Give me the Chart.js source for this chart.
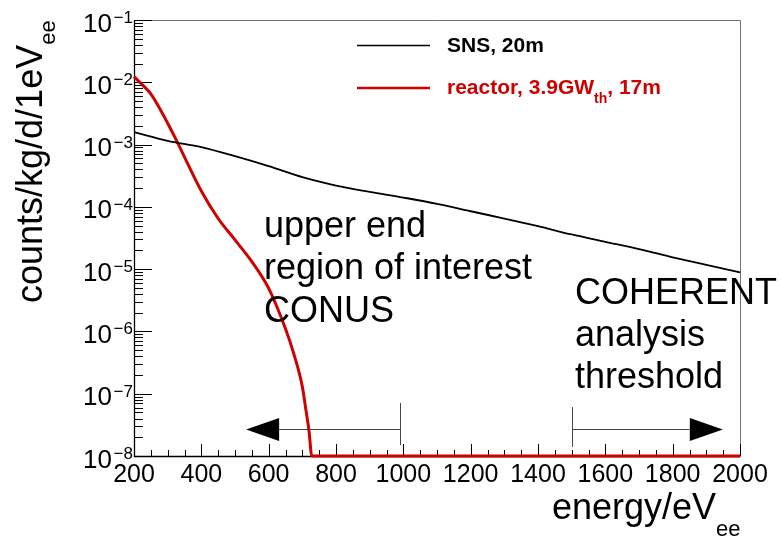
<!DOCTYPE html>
<html>
<head>
<meta charset="utf-8">
<script src="https://cdn.jsdelivr.net/npm/chart.js@4.4.1/dist/chart.umd.min.js"></script>
<style>
  html, body { margin: 0; padding: 0; background: #fff; }
  #wrap { width: 783px; height: 538px; }
</style>
</head>
<body>
<div id="wrap"><canvas id="c" width="783" height="538"></canvas></div>
<script>
// SNS, 20m (counts/kg/d/1eV_ee)
const snsEnergy = [200, 300, 400, 500, 600, 700, 800, 900, 1000, 1100, 1200, 1300, 1400, 1500, 1600, 1700, 1800, 1900, 2000];
const snsRate = [1.58e-3, 1.15e-3, 9.1e-4, 6.5e-4, 4.5e-4, 3.0e-4, 2.2e-4, 1.74e-4, 1.41e-4, 1.12e-4, 8.5e-5, 6.5e-5, 4.9e-5, 3.6e-5, 2.75e-5, 2.1e-5, 1.55e-5, 1.17e-5, 8.9e-6];

// reactor, 3.9GW_th, 17m
const reactorEnergy = [200, 225, 250, 275, 300, 325, 350, 400, 450, 500, 550, 600, 650, 675, 700, 710, 720, 728, 2000];
const reactorRate = [1.23e-2, 9.1e-3, 6.5e-3, 3.9e-3, 2.2e-3, 1.2e-3, 6.3e-4, 1.8e-4, 6.5e-5, 2.95e-5, 1.32e-5, 4.9e-6, 1.1e-6, 4.3e-7, 1.3e-7, 5.8e-8, 2.5e-8, 1e-8, 1e-8];

// axes
const xTickValues = [200, 400, 600, 800, 1000, 1200, 1400, 1600, 1800, 2000];
const yTickExponents = [-1, -2, -3, -4, -5, -6, -7, -8];

const FONT = '"Liberation Sans", Arial, Helvetica, sans-serif';
const RED = '#d00000';

// draws a run of text pieces, each {t, size, dy, bold, color}
function drawRun(ctx, x, y, pieces) {
  pieces.forEach(p => {
    ctx.font = (p.bold ? 'bold ' : '') + p.size + 'px ' + FONT;
    ctx.fillStyle = p.color || '#000';
    ctx.fillText(p.t, x, y + (p.dy || 0));
    x += ctx.measureText(p.t).width;
  });
}

function arrowHead(ctx, xTip, xBase, y, half) {
  ctx.beginPath();
  ctx.moveTo(xTip, y);
  ctx.lineTo(xBase, y - half);
  ctx.lineTo(xBase, y + half);
  ctx.closePath();
  ctx.fill();
}

const rootStyle = {
  id: 'rootStyle',
  beforeDatasetsDraw(chart) {
    const { ctx, chartArea: a, scales: { x, y } } = chart;
    ctx.save();
    // frame
    ctx.lineWidth = 1;
    ctx.strokeStyle = '#707070';
    ctx.beginPath();
    ctx.moveTo(a.left, a.top + 0.5);
    ctx.lineTo(a.right + 0.5, a.top + 0.5);
    ctx.lineTo(a.right + 0.5, a.bottom);
    ctx.stroke();
    ctx.strokeStyle = '#000';
    ctx.lineWidth = 1.3;
    ctx.beginPath();
    ctx.moveTo(a.left + 0.5, a.top);
    ctx.lineTo(a.left + 0.5, a.bottom + 0.5);
    ctx.lineTo(a.right + 0.5, a.bottom + 0.5);
    ctx.stroke();

    // ticks inside the frame
    ctx.lineWidth = 1;
    ctx.beginPath();
    for (let v = 200; v <= 2000; v += 50) {
      const px = Math.round(x.getPixelForValue(v)) + 0.5;
      const len = (v % 200 === 0) ? 12 : 6;
      ctx.moveTo(px, a.bottom);
      ctx.lineTo(px, a.bottom - len);
    }
    yTickExponents.forEach(e => {
      const py = Math.round(y.getPixelForValue(Math.pow(10, e))) + 0.5;
      ctx.moveTo(a.left, py);
      ctx.lineTo(a.left + 18, py);
      if (e > -8) {
        for (let m = 2; m <= 9; m++) {
          const pm = Math.round(y.getPixelForValue(m * Math.pow(10, e - 1))) + 0.5;
          ctx.moveTo(a.left, pm);
          ctx.lineTo(a.left + 9, pm);
        }
      }
    });
    ctx.stroke();
    ctx.restore();
  },
  afterDatasetsDraw(chart) {
    const { ctx, chartArea: a, scales: { x, y } } = chart;
    ctx.save();
    ctx.textBaseline = 'alphabetic';

    // y tick labels 10^n
    yTickExponents.forEach(e => {
      const py = y.getPixelForValue(Math.pow(10, e));
      ctx.textAlign = 'right';
      ctx.font = '26px ' + FONT;
      ctx.fillStyle = '#000';
      ctx.fillText('10', 112, py + 11.5);
      ctx.textAlign = 'left';
      ctx.font = '17px ' + FONT;
      ctx.fillText('\u2212' + (-e), 113.5, py + 3);
    });
    ctx.textAlign = 'left';

    // axis titles
    drawRun(ctx, 552, 519, [{ t: 'energy/eV', size: 36 }, { t: 'ee', size: 22, dy: 17 }]);
    ctx.save();
    ctx.translate(42, 303);
    ctx.rotate(-Math.PI / 2);
    drawRun(ctx, 0, 0, [{ t: 'counts/kg/d/1eV', size: 36 }, { t: 'ee', size: 22, dy: 13 }]);
    ctx.restore();

    // arrows
    const ay = Math.round(y.getPixelForValue(2.7e-8)) + 0.5;
    ctx.strokeStyle = '#444';
    ctx.lineWidth = 1;
    ctx.beginPath();
    let tx = Math.round(x.getPixelForValue(990)) + 0.5;
    ctx.moveTo(tx, y.getPixelForValue(7.1e-8));
    ctx.lineTo(tx, y.getPixelForValue(1.5e-8));
    ctx.moveTo(tx, ay);
    ctx.lineTo(x.getPixelForValue(631), ay);
    tx = Math.round(x.getPixelForValue(1500)) + 0.5;
    ctx.moveTo(tx, y.getPixelForValue(6.1e-8));
    ctx.lineTo(tx, y.getPixelForValue(1.4e-8));
    ctx.moveTo(tx, ay);
    ctx.lineTo(x.getPixelForValue(1851), ay);
    ctx.stroke();
    ctx.fillStyle = '#000';
    arrowHead(ctx, x.getPixelForValue(533), x.getPixelForValue(631), ay, 11.5);
    arrowHead(ctx, x.getPixelForValue(1949), x.getPixelForValue(1851), ay, 11.5);

    // annotation text
    ctx.font = '36px ' + FONT;
    ctx.fillStyle = '#000';
    const lx = x.getPixelForValue(586);
    ['upper end', 'region of interest', 'CONUS'].forEach((s, i) => ctx.fillText(s, lx, 237 + i * 42.3));
    const rx = x.getPixelForValue(1510);
    ['COHERENT', 'analysis', 'threshold'].forEach((s, i) => ctx.fillText(s, rx, 304 + i * 42));

    // legend
    ctx.lineWidth = 1.6;
    ctx.strokeStyle = '#000';
    ctx.beginPath();
    ctx.moveTo(357, 45.5);
    ctx.lineTo(430, 45.5);
    ctx.stroke();
    ctx.lineWidth = 2.6;
    ctx.strokeStyle = RED;
    ctx.beginPath();
    ctx.moveTo(357, 88);
    ctx.lineTo(430, 88);
    ctx.stroke();
    drawRun(ctx, 447, 52, [{ t: 'SNS, 20m', size: 21, bold: true }]);
    drawRun(ctx, 447, 94, [
      { t: 'reactor, 3.9GW', size: 21, bold: true, color: RED },
      { t: 'th', size: 14, bold: true, color: RED, dy: 9 },
      { t: ', 17m', size: 21, bold: true, color: RED }
    ]);
    ctx.restore();
  }
};

new Chart(document.getElementById('c'), {
  type: 'line',
  data: {
    datasets: [
      {
        label: 'SNS, 20m',
        data: snsEnergy.map((e, i) => ({ x: e, y: snsRate[i] })),
        borderColor: '#000',
        borderWidth: 1.8,
        pointRadius: 0,
        cubicInterpolationMode: 'monotone',
        clip: false
      },
      {
        label: 'reactor, 3.9GW_th, 17m',
        data: reactorEnergy.map((e, i) => ({ x: e, y: reactorRate[i] })),
        borderColor: RED,
        borderWidth: 3,
        pointRadius: 0,
        cubicInterpolationMode: 'monotone',
        clip: false
      }
    ]
  },
  options: {
    responsive: false,
    animation: false,
    events: [],
    layout: { padding: { top: 20, right: 43, left: 0, bottom: 0 } },
    plugins: { legend: { display: false }, tooltip: { enabled: false } },
    scales: {
      x: {
        type: 'linear',
        min: 200,
        max: 2000,
        afterBuildTicks: s => { s.ticks = xTickValues.map(v => ({ value: v })); },
        afterFit: s => { s.height = 82; },
        grid: { display: false },
        border: { display: false },
        ticks: {
          color: '#000',
          font: { family: FONT, size: 25 },
          padding: -4,
          maxRotation: 0,
          autoSkip: false,
          callback: v => String(v)
        }
      },
      y: {
        type: 'logarithmic',
        min: 1e-8,
        max: 1e-1,
        afterFit: s => { s.width = 134; },
        grid: { display: false },
        border: { display: false },
        ticks: { display: false }
      }
    }
  },
  plugins: [rootStyle]
});
</script>
</body>
</html>
